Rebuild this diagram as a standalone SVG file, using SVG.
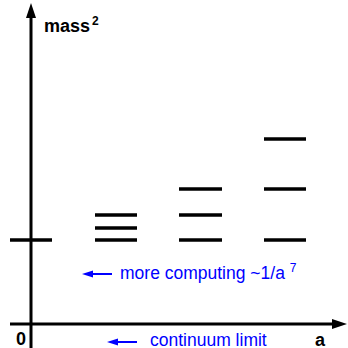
<svg xmlns="http://www.w3.org/2000/svg" width="348" height="348" viewBox="0 0 348 348">
<style>
.ax{stroke:#000;stroke-width:3;fill:none}
.lv{stroke:#000;stroke-width:3.5}
.bl{stroke:#0000ff;stroke-width:2}
.t{font-family:"Liberation Sans",Arial,sans-serif}
.k{fill:#000;font-weight:bold}
.b{fill:#0000ff}
</style>
<rect width="348" height="348" fill="#fff"/>
<g id="connectors">
<line class="ax" x1="31" y1="348" x2="31" y2="16"/>
<polygon points="31,3 26,18 36,18" fill="#000"/>
<line class="ax" x1="10" y1="324" x2="333" y2="324"/>
<polygon points="347,324 332,319 332,329" fill="#000"/>
<line class="bl" x1="112" y1="274" x2="90" y2="274"/>
<polygon points="82,274 93,270.5 93,277.5" fill="#0000ff"/>
<line class="bl" x1="137" y1="342" x2="115" y2="342"/>
<polygon points="107,342 118,338.5 118,345.5" fill="#0000ff"/>
</g>
<g id="level0"><line class="lv" x1="10" y1="240" x2="52" y2="240"/></g>
<g id="group1">
<line class="lv" x1="95" y1="215" x2="137" y2="215"/>
<line class="lv" x1="95" y1="228" x2="137" y2="228"/>
<line class="lv" x1="95" y1="240" x2="137" y2="240"/>
</g>
<g id="group2">
<line class="lv" x1="179" y1="189" x2="222" y2="189"/>
<line class="lv" x1="179" y1="215" x2="222" y2="215"/>
<line class="lv" x1="179" y1="240" x2="222" y2="240"/>
</g>
<g id="group3">
<line class="lv" x1="264" y1="139" x2="306" y2="139"/>
<line class="lv" x1="264" y1="189" x2="306" y2="189"/>
<line class="lv" x1="264" y1="240" x2="306" y2="240"/>
</g>
<g id="labels">
<text class="t k" x="44" y="32" font-size="18">mass<tspan font-size="12" dx="2" dy="-7">2</tspan></text>
<text class="t k" x="16" y="345" font-size="18">0</text>
<text class="t k" x="315" y="346" font-size="18">a</text>
<text class="t b" x="120" y="279" font-size="17.5">more computing ~1/a <tspan font-size="12" dy="-7">7</tspan></text>
<text class="t b" x="150" y="346" font-size="17.5">continuum limit</text>
</g>
</svg>
